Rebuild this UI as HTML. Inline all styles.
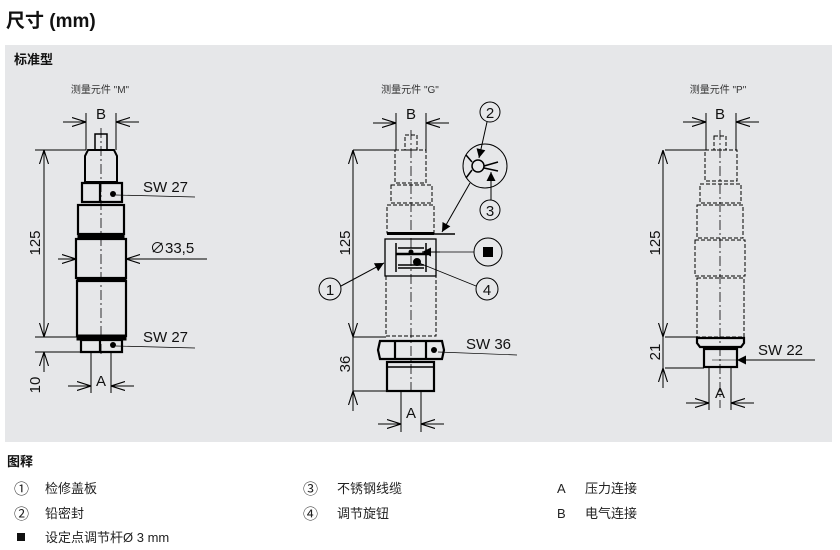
<!DOCTYPE html>
<html><head><meta charset="utf-8"><style>
body{margin:0;width:840px;height:550px;background:#fff;overflow:hidden;font-family:"Liberation Sans","Noto Sans CJK SC",sans-serif;}
svg{position:absolute;left:0;top:0}
</style></head><body>
<svg width="840" height="550" viewBox="0 0 840 550" font-family="Liberation Sans, Noto Sans CJK SC, sans-serif">
<defs>
<marker id="ar" viewBox="0 0 14 10" refX="14" refY="5" markerWidth="14" markerHeight="10" orient="auto-start-reverse" markerUnits="userSpaceOnUse"><path d="M0,0.5 L14,5 L0,9.5" fill="none" stroke="#000" stroke-width="1.1"/></marker>
<marker id="af" viewBox="0 0 10 10" refX="10" refY="5" markerWidth="14" markerHeight="9" orient="auto" markerUnits="userSpaceOnUse"><path d="M0,0 L10,5 L0,10z" fill="#000"/></marker>
</defs>
<text x="6" y="27" font-size="19" font-weight="bold" fill="#111">尺寸 (mm)</text>
<rect x="5" y="45" width="827" height="397" fill="#e6e7e9"/>
<text x="14" y="64" font-size="13" font-weight="bold" fill="#111">标准型</text>
<text x="100" y="93" font-size="10" fill="#333" text-anchor="middle">测量元件 "M"</text>
<text x="410" y="93" font-size="10" fill="#333" text-anchor="middle">测量元件 "G"</text>
<text x="718" y="93" font-size="10" fill="#333" text-anchor="middle">测量元件 "P"</text>

<g stroke="#000" fill="none" stroke-width="1">
<!-- ===== M ===== -->
<line x1="86" y1="113" x2="86" y2="150"/><line x1="116" y1="113" x2="116" y2="150"/>
<line x1="63" y1="122" x2="86" y2="122" marker-end="url(#ar)"/><line x1="139" y1="122" x2="116" y2="122" marker-end="url(#ar)"/>
<line x1="101" y1="128" x2="101" y2="355" stroke-dasharray="10,3,2,3" stroke-width="0.8"/>
<rect x="95" y="134" width="12" height="16" stroke-width="1.5"/>
<path d="M88,150 L114,150 L117,156 L117,182 L85,182 L85,156z" stroke-width="2"/>
<path d="M82,183 L122,183 L122,202 L82,202z M100,183 L100,202" stroke-width="2.2"/>
<rect x="78" y="205" width="46" height="29" stroke-width="2.2"/>
<rect x="78" y="234" width="46" height="4" fill="#000"/>
<rect x="76" y="239" width="50" height="39" stroke-width="2.2"/>
<rect x="77" y="278" width="49" height="3" fill="#000"/>
<rect x="77" y="281" width="49" height="55" stroke-width="2.2"/>
<rect x="77" y="335" width="49" height="5" fill="#000"/>
<path d="M81,340 L122,340 L122,352 L81,352z M100,340 L100,352" stroke-width="2.2"/>
<line x1="35" y1="150" x2="86" y2="150"/><line x1="35" y1="337" x2="78" y2="337"/><line x1="35" y1="352" x2="81" y2="352"/>
<line x1="44" y1="150" x2="44" y2="337" marker-start="url(#ar)" marker-end="url(#ar)"/>
<line x1="44" y1="372" x2="44" y2="352" marker-end="url(#ar)"/>
<line x1="91" y1="352" x2="91" y2="393"/><line x1="111" y1="352" x2="111" y2="393"/>
<line x1="68" y1="386" x2="91" y2="386" marker-end="url(#ar)"/><line x1="134" y1="386" x2="111" y2="386" marker-end="url(#ar)"/>
<line x1="58" y1="259" x2="76" y2="259" marker-end="url(#ar)"/><line x1="207" y1="259" x2="126" y2="259" marker-end="url(#ar)"/>
<line x1="116" y1="195" x2="195" y2="197" stroke-width="0.7"/>
<line x1="116" y1="346" x2="195" y2="348" stroke-width="0.7"/>

<!-- ===== G ===== -->
<line x1="396" y1="113" x2="396" y2="150"/><line x1="426" y1="113" x2="426" y2="150"/>
<line x1="373" y1="123" x2="396" y2="123" marker-end="url(#ar)"/><line x1="449" y1="123" x2="426" y2="123" marker-end="url(#ar)"/>
<line x1="411" y1="130" x2="411" y2="395" stroke-dasharray="10,3,2,3" stroke-width="0.8"/>
<g stroke-dasharray="4,2" stroke-width="1">
<rect x="405" y="135" width="12" height="15"/>
<rect x="395" y="150" width="31" height="33"/>
<path d="M391,185 L432,185 L432,203 L391,203z"/>
<rect x="387" y="205" width="47" height="28"/>
<rect x="386" y="276" width="50" height="60"/>
</g>
<rect x="387" y="232" width="47" height="3" fill="#000" stroke="none"/>
<line x1="434" y1="234" x2="455" y2="234" stroke-width="1.5"/>
<rect x="385" y="239" width="51" height="37" stroke-width="1.3"/>
<path d="M396,243 L396,272 M426,243 L426,272 M398,248 L424,248 M398,265 L424,265 M398,268 L424,268" stroke-width="1.5"/>
<line x1="396" y1="254" x2="428" y2="254" stroke-width="2.5"/>
<line x1="440" y1="252" x2="422" y2="252" marker-end="url(#af)"/>
<circle cx="411" cy="252" r="2" fill="#000"/>
<circle cx="417" cy="262" r="3.5" fill="#000"/>
<path d="M380,341 L442,341 L444,350 L442,359 L380,359 L378,350z M395,341 L395,359 M426,341 L426,359" stroke-width="2.2"/>
<rect x="387" y="362" width="47" height="29" stroke-width="2.2"/>
<line x1="387" y1="367" x2="434" y2="367" stroke-width="1.5"/>
<line x1="353" y1="150" x2="396" y2="150"/><line x1="353" y1="337" x2="386" y2="337"/><line x1="353" y1="391" x2="387" y2="391"/>
<line x1="353" y1="150" x2="353" y2="337" marker-start="url(#ar)" marker-end="url(#ar)"/>
<line x1="353" y1="337" x2="353" y2="391"/>
<line x1="353" y1="411" x2="353" y2="391" marker-end="url(#ar)"/>
<line x1="401" y1="391" x2="401" y2="432"/><line x1="421" y1="391" x2="421" y2="432"/>
<line x1="378" y1="424" x2="401" y2="424" marker-end="url(#ar)"/><line x1="444" y1="424" x2="421" y2="424" marker-end="url(#ar)"/>
<line x1="438" y1="352" x2="517" y2="355" stroke-width="0.7"/>
<!-- callouts -->
<circle cx="490" cy="112" r="10"/><circle cx="485" cy="166" r="22"/><circle cx="490" cy="210" r="10"/>
<circle cx="488" cy="252" r="14"/><circle cx="487" cy="289" r="11"/><circle cx="330" cy="289" r="11"/>
<circle cx="478" cy="166" r="6" stroke-width="1.5"/>
<path d="M472,162 L466,155 M472,170 L466,178 M484,166 L498,162 M484,168 L498,171" stroke-width="1.5"/>
<line x1="487" y1="122" x2="479" y2="158" marker-end="url(#af)"/>
<line x1="491" y1="200" x2="491" y2="172" marker-end="url(#af)"/>
<line x1="470" y1="183" x2="442" y2="232" marker-end="url(#af)"/>
<line x1="341" y1="286" x2="384" y2="263" marker-end="url(#af)"/>
<line x1="476" y1="286" x2="419" y2="263" stroke-width="0.7"/>
<line x1="474" y1="252" x2="440" y2="252" stroke-width="0.7"/>
<rect x="483" y="247" width="10" height="10" fill="#000" stroke="none"/>

<!-- ===== P ===== -->
<line x1="706" y1="113" x2="706" y2="150"/><line x1="736" y1="113" x2="736" y2="150"/>
<line x1="683" y1="122" x2="706" y2="122" marker-end="url(#ar)"/><line x1="759" y1="122" x2="736" y2="122" marker-end="url(#ar)"/>
<line x1="720" y1="130" x2="720" y2="408" stroke-dasharray="10,3,2,3" stroke-width="0.8"/>
<g stroke-dasharray="4,2" stroke-width="1">
<rect x="714" y="136" width="12" height="14"/>
<rect x="705" y="150" width="32" height="31"/>
<rect x="700" y="184" width="41" height="19"/>
<rect x="697" y="205" width="46" height="33"/>
<rect x="695" y="240" width="50" height="36"/>
<rect x="697" y="278" width="47" height="59"/>
</g>
<path d="M697,338 L744,338 L744,343 L741,347 L700,347 L697,343z" stroke-width="2.2"/>
<rect x="704" y="349" width="33" height="18" stroke-width="2.2"/>
<line x1="665" y1="150" x2="706" y2="150"/><line x1="665" y1="337" x2="697" y2="337"/><line x1="665" y1="368" x2="704" y2="368"/>
<line x1="663" y1="150" x2="663" y2="337" marker-start="url(#ar)" marker-end="url(#ar)"/>
<line x1="663" y1="337" x2="663" y2="368"/>
<line x1="663" y1="388" x2="663" y2="368" marker-end="url(#ar)"/>
<line x1="709" y1="368" x2="709" y2="410"/><line x1="731" y1="368" x2="731" y2="410"/>
<line x1="686" y1="403" x2="709" y2="403" marker-end="url(#ar)"/><line x1="754" y1="403" x2="731" y2="403" marker-end="url(#ar)"/>
<line x1="815" y1="360" x2="737" y2="360" marker-end="url(#af)" stroke-width="1"/>
<line x1="712" y1="360" x2="737" y2="360" stroke-width="0.6"/>
</g>
<g fill="#000" stroke="none">
<circle cx="113" cy="194" r="3"/><circle cx="113" cy="345" r="3"/><circle cx="434" cy="350" r="3"/>
</g>
<g font-size="15" fill="#111">
<text x="101" y="119" text-anchor="middle">B</text>
<text x="411" y="119" text-anchor="middle">B</text>
<text x="720" y="119" text-anchor="middle">B</text>
<text x="101" y="386" text-anchor="middle">A</text>
<text x="411" y="418" text-anchor="middle">A</text>
<text x="720" y="398" text-anchor="middle">A</text>
<text x="143" y="192">SW 27</text>
<text x="143" y="342">SW 27</text>
<text x="466" y="349">SW 36</text>
<text x="758" y="355">SW 22</text>
<text x="150" y="253">∅33,5</text>
<text transform="translate(40,243) rotate(-90)" text-anchor="middle">125</text>
<text transform="translate(40,385) rotate(-90)" text-anchor="middle">10</text>
<text transform="translate(350,243) rotate(-90)" text-anchor="middle">125</text>
<text transform="translate(350,364) rotate(-90)" text-anchor="middle">36</text>
<text transform="translate(660,243) rotate(-90)" text-anchor="middle">125</text>
<text transform="translate(660,352) rotate(-90)" text-anchor="middle">21</text>
<text x="490" y="118" text-anchor="middle">2</text>
<text x="490" y="216" text-anchor="middle">3</text>
<text x="487" y="295" text-anchor="middle">4</text>
<text x="330" y="295" text-anchor="middle">1</text>
</g>
<g font-size="13" fill="#222">
<text x="7" y="466" font-size="13" font-weight="bold" fill="#111">图释</text>
<text x="14" y="494" font-size="15">①</text><text x="45" y="493">检修盖板</text>
<text x="14" y="519" font-size="15">②</text><text x="45" y="518">铅密封</text>
<rect x="17" y="533" width="8" height="8" fill="#111"/><text x="45" y="542">设定点调节杆Ø 3 mm</text>
<text x="303" y="494" font-size="15">③</text><text x="337" y="493">不锈钢线缆</text>
<text x="303" y="519" font-size="15">④</text><text x="337" y="518">调节旋钮</text>
<text x="557" y="493">A</text><text x="585" y="493">压力连接</text>
<text x="557" y="518">B</text><text x="585" y="518">电气连接</text>
</g>
</svg>
</body></html>
